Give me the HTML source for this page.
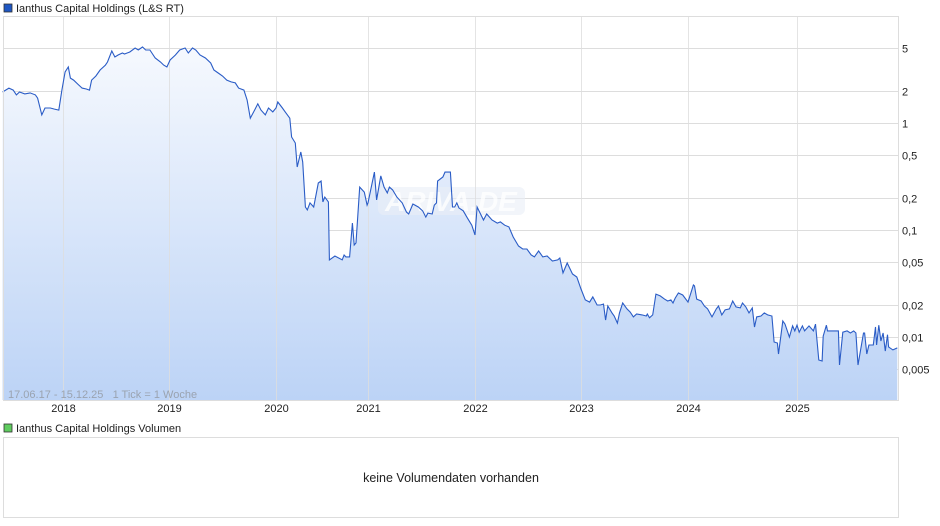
<!DOCTYPE html>
<html><head><meta charset="utf-8">
<style>
body{margin:0;background:#fff;font-family:"Liberation Sans",sans-serif;}
svg{display:block}
</style></head>
<body>
<svg id="c" width="940" height="526" font-family="Liberation Sans, sans-serif">
<defs>
<linearGradient id="g" x1="0" y1="0" x2="0" y2="1">
<stop offset="0" stop-color="#f6f9fe"/><stop offset="1" stop-color="#bcd3f6"/>
</linearGradient>
</defs>
<rect x="4" y="4" width="8" height="8" fill="#1f57c3" stroke="#333" stroke-width="0.8"/>
<text x="16" y="12" font-size="11" fill="#222">Ianthus Capital Holdings (L&amp;S RT)</text>
<g id="grid"></g>
<path id="area" fill="url(#g)"/>
<rect x="378" y="187" width="147" height="28" rx="6" fill="#e9eef6" opacity="0.6"/>
<text x="451" y="211" font-size="28" font-style="italic" font-weight="bold" fill="#ffffff" text-anchor="middle" opacity="0.8">ARIVA.DE</text>
<g id="vgrid"></g>
<path id="line" fill="none" stroke="#2a5cc6" stroke-width="1.1"/>
<rect x="3.5" y="16.5" width="895" height="384" fill="none" stroke="#ddd"/>
<text x="8" y="398" font-size="11" fill="#9aa3b0">17.06.17 - 15.12.25&#160;&#160;&#160;1 Tick = 1 Woche</text>
<g id="ylab"></g>
<g id="xlab"></g>
<rect x="4" y="424" width="8" height="8" fill="#5fcc5f" stroke="#333" stroke-width="0.8"/>
<text x="16" y="432" font-size="11" fill="#222">Ianthus Capital Holdings Volumen</text>
<rect x="3.5" y="437.5" width="895" height="80" fill="none" stroke="#ddd"/>
<text x="451" y="482" font-size="12.5" fill="#222" text-anchor="middle">keine Volumendaten vorhanden</text>
</svg>
<script>
const dates=[2017.43,2017.49,2017.53,2017.56,2017.59,2017.64,2017.69,2017.74,2017.76,2017.80,2017.83,2017.88,2017.92,2017.96,2017.99,2018.02,2018.05,2018.07,2018.10,2018.14,2018.18,2018.22,2018.25,2018.27,2018.31,2018.35,2018.40,2018.42,2018.46,2018.49,2018.52,2018.56,2018.58,2018.63,2018.68,2018.71,2018.75,2018.78,2018.82,2018.87,2018.92,2018.95,2018.98,2019.01,2019.06,2019.10,2019.15,2019.18,2019.22,2019.25,2019.29,2019.34,2019.39,2019.42,2019.46,2019.50,2019.54,2019.58,2019.62,2019.65,2019.70,2019.73,2019.76,2019.80,2019.83,2019.86,2019.90,2019.93,2019.97,
2020.00,2020.02,2020.07,2020.10,2020.15,2020.17,2020.21,2020.23,2020.27,2020.29,2020.32,2020.34,2020.37,2020.41,2020.46,2020.49,2020.51,2020.53,2020.57,2020.58,2020.64,2020.72,2020.74,2020.76,2020.80,2020.83,2020.85,2020.87,2020.91,2020.96,2020.99,
2021.00,2021.06,2021.08,2021.12,2021.15,2021.18,2021.20,2021.23,2021.27,2021.32,2021.36,2021.38,2021.42,2021.47,2021.51,2021.54,2021.56,2021.60,2021.62,2021.64,2021.65,2021.70,2021.72,2021.77,2021.79,2021.81,2021.83,2021.85,2021.89,2021.93,2021.97,2022.00,
2022.02,2022.08,2022.11,2022.16,2022.21,2022.24,2022.28,2022.32,2022.36,2022.41,2022.45,2022.49,2022.53,2022.56,2022.60,2022.64,2022.68,2022.73,2022.78,2022.80,2022.83,2022.87,2022.92,2022.96,2023.00,
2023.04,2023.08,2023.11,2023.15,2023.18,2023.21,2023.23,2023.25,2023.29,2023.31,2023.34,2023.36,2023.39,2023.43,2023.46,2023.49,2023.52,2023.57,2023.61,2023.62,2023.64,2023.67,2023.70,2023.74,2023.78,2023.81,2023.84,2023.86,2023.88,2023.91,2023.95,
2024.00,2024.05,2024.06,2024.08,2024.12,2024.15,2024.18,2024.22,2024.26,2024.28,2024.31,2024.34,2024.38,2024.41,2024.44,2024.48,2024.50,2024.53,2024.56,2024.59,2024.61,2024.63,2024.67,2024.70,2024.73,2024.77,2024.79,2024.82,2024.83,2024.87,2024.89,2024.93,2024.96,2024.98,
2025.00,2025.02,2025.05,2025.07,2025.11,2025.15,2025.17,2025.20,2025.23,2025.24,2025.27,2025.28,2025.38,2025.39,2025.42,2025.46,2025.49,2025.52,2025.54,2025.56,2025.61,2025.62,2025.64,2025.66,2025.70,2025.72,2025.73,2025.75,2025.77,2025.79,2025.81,2025.83,2025.84,2025.88,2025.92];
const prices=[1.95,2.12,2.03,1.83,1.95,1.87,1.91,1.83,1.71,1.19,1.38,1.38,1.35,1.32,2.03,3.0,3.34,2.63,2.52,2.31,2.12,2.08,2.03,2.52,2.75,3.13,3.48,3.72,4.71,4.14,4.32,4.51,4.41,4.61,5.02,4.81,5.13,4.81,4.81,4.05,3.72,3.48,3.34,3.88,4.32,4.81,5.02,4.51,5.02,4.81,4.32,4.05,3.64,3.13,2.93,2.75,2.52,2.42,2.37,2.12,2.03,1.64,1.11,1.32,1.51,1.32,1.19,1.38,1.27,
1.38,1.57,1.38,1.27,1.11,0.74,0.65,0.388,0.536,0.432,0.164,0.154,0.179,0.164,0.275,0.287,0.183,0.203,0.183,0.0525,0.0571,0.0525,0.0584,0.056,0.056,0.116,0.0724,0.0757,0.252,0.226,0.171,
0.179,0.348,0.191,0.32,0.252,0.222,0.252,0.237,0.203,0.179,0.147,0.141,0.175,0.164,0.151,0.132,0.144,0.141,0.171,0.179,0.287,0.313,0.348,0.348,0.164,0.164,0.179,0.161,0.151,0.129,0.111,0.0898,
0.164,0.124,0.141,0.124,0.116,0.119,0.111,0.107,0.0861,0.0708,0.0664,0.0664,0.0584,0.056,0.0637,0.056,0.0571,0.0513,0.0525,0.0547,0.0397,0.0492,0.0388,0.0364,0.0281,
0.0222,0.0212,0.0237,0.0199,0.0199,0.0203,0.0144,0.0195,0.0168,0.0157,0.0135,0.0168,0.0208,0.0183,0.0171,0.0154,0.0164,0.0161,0.0157,0.0164,0.0151,0.0161,0.0252,0.0242,0.0226,0.0217,0.0222,0.0208,0.0231,0.0258,0.0247,
0.0212,0.0306,0.030,0.0226,0.0217,0.0195,0.0183,0.0154,0.0183,0.0195,0.0161,0.0179,0.0183,0.0217,0.0191,0.0187,0.0208,0.0191,0.0168,0.0187,0.0124,0.0154,0.0157,0.0168,0.0161,0.0157,0.00898,0.00879,0.00694,0.0141,0.0132,0.0100,0.0127,0.0114,
0.0129,0.0111,0.0127,0.0114,0.0127,0.0114,0.0132,0.0061,0.00597,0.0102,0.0129,0.0114,0.0114,0.00547,0.0111,0.0114,0.0109,0.0114,0.0109,0.00547,0.0109,0.0109,0.00694,0.00842,0.00842,0.0124,0.00842,0.0129,0.00918,0.0109,0.0074,0.0105,0.00807,0.00757,0.00791];
const yearTicks=[2018,2019,2020,2021,2022,2023,2024,2025];
const yTicks=[5,2,1,0.5,0.2,0.1,0.05,0.02,0.01,0.005];
const yTickLabels=["5","2","1","0,5","0,2","0,1","0,05","0,02","0,01","0,005"];

const tickPx=[63,169,276,368,475,581,688,797];
function xs(t){
  if(t<=yearTicks[0]) return tickPx[0]+(t-yearTicks[0])*106;
  for(let i=0;i<yearTicks.length-1;i++){
    if(t<=yearTicks[i+1]) return tickPx[i]+(t-yearTicks[i])/(yearTicks[i+1]-yearTicks[i])*(tickPx[i+1]-tickPx[i]);
  }
  return tickPx[tickPx.length-1]+(t-yearTicks[yearTicks.length-1])*109;
}
function ys(v){return 123-107*Math.log10(v);}
const NS="http://www.w3.org/2000/svg";
const grid=document.getElementById('grid'),vgrid=document.getElementById('vgrid'),ylab=document.getElementById('ylab'),xlab=document.getElementById('xlab');
yTicks.forEach((v,i)=>{
  const y=Math.round(ys(v))+0.5;
  const l=document.createElementNS(NS,'line');
  l.setAttribute('x1',4);l.setAttribute('x2',898);l.setAttribute('y1',y);l.setAttribute('y2',y);
  l.setAttribute('stroke','#ddd');
  
  
  grid.appendChild(l);
  const t=document.createElementNS(NS,'text');
  t.setAttribute('x',902);t.setAttribute('y',y+4);t.setAttribute('font-size','11');t.setAttribute('fill','#222');
  t.textContent=yTickLabels[i];
  
  
  ylab.appendChild(t);
});
yearTicks.forEach(yr=>{
  const x=Math.round(xs(yr))+0.5;
  const l=document.createElementNS(NS,'line');
  l.setAttribute('x1',x);l.setAttribute('x2',x);l.setAttribute('y1',17);l.setAttribute('y2',400);
  l.setAttribute('stroke','#ddd');l.setAttribute('stroke-opacity','0.8');
  
  
  vgrid.appendChild(l);
  const t=document.createElementNS(NS,'text');
  t.setAttribute('x',x);t.setAttribute('y',412);t.setAttribute('font-size','11');t.setAttribute('fill','#222');t.setAttribute('text-anchor','middle');
  t.textContent=String(yr);
  
  
  xlab.appendChild(t);
});
let d='';
dates.forEach((t,i)=>{d+=(i?'L':'M')+xs(t).toFixed(1)+','+ys(prices[i]).toFixed(1);});
document.getElementById('line').setAttribute('d',d);
document.getElementById('area').setAttribute('d',d+'L'+xs(dates[dates.length-1]).toFixed(1)+',400L'+xs(dates[0]).toFixed(1)+',400Z');
</script>
</body></html>
